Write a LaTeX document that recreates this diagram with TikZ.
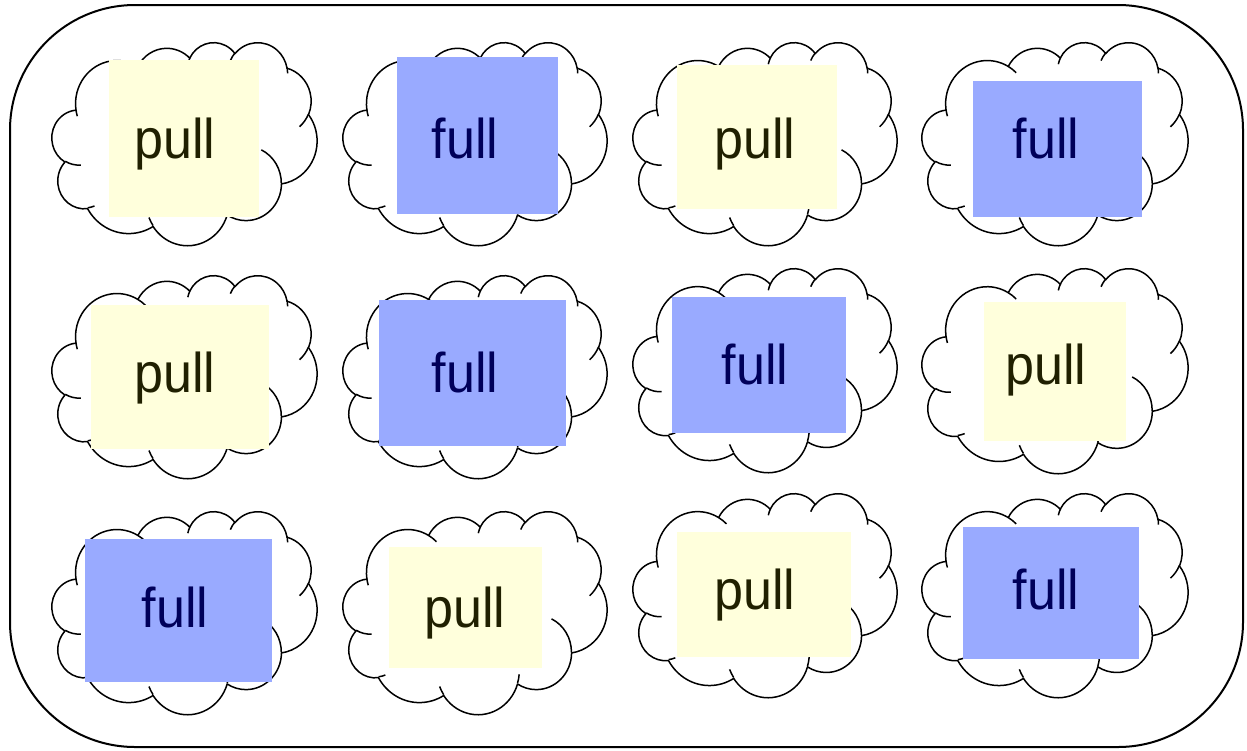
\documentclass[tikz,border=0pt]{standalone}
\usepackage{fontspec}
\newfontfamily\comic[FakeStretch=0.93]{Liberation Sans}
\usetikzlibrary{fit}
\definecolor{cream}{RGB}{255,255,220}
\definecolor{bluish}{RGB}{153,170,255}
\definecolor{olivetext}{RGB}{32,32,0}
\definecolor{navytext}{RGB}{0,0,90}
% OOXML-style arc: x radius, y radius, visual start angle, visual sweep
\newcommand\oa[4]{arc[x radius=#1, y radius=#2, start angle={atan2(#1*sin(#3),#2*cos(#3))}, delta angle={Mod(atan2(#1*sin((#3)+(#4)),#2*cos((#3)+(#4)))-atan2(#1*sin(#3),#2*cos(#3)),360)}]}
\newcommand\cloudshape[4]{%
  \pgfmathsetmacro\cwx{#3/43.2}%
  \pgfmathsetmacro\chy{-#4/43.2}%
  \begin{scope}[shift={(#1,#2)}, x=\cwx pt, y=\chy pt]
    \filldraw[cloudline, fill=white] (3.900,14.370)
      \oa{6.753}{9.190}{-190.48748}{123.78053}
      \oa{5.333}{7.267}{-144.10238}{89.94523}
      \oa{4.365}{5.945}{-145.80792}{99.72302}
      \oa{4.857}{6.595}{-130.98607}{117.24173}
      \oa{5.333}{7.273}{-78.70888}{109.02692}
      \oa{6.775}{9.220}{-46.26725}{130.26900}
      \oa{5.785}{7.867}{0.62502}{114.03333}
      \oa{6.752}{9.215}{22.45160}{115.17255}
      \oa{7.720}{10.543}{66.24263}{75.71102}
      \oa{4.360}{5.918}{-274.94208}{146.73557}
      \oa{4.345}{5.945}{-246.82850}{152.51885}
      -- cycle;
    \draw[cloudline]
      (4.693,26.177) \oa{4.345}{5.945}{86.742}{26.4295}
      (6.928,34.899) \oa{4.360}{5.918}{73.6105}{11.4475}
      (16.478,39.090) \oa{6.752}{9.215}{137.6242}{14.0811}
      (28.827,34.751) \oa{6.752}{9.215}{6.4533}{15.9984}
      (34.129,22.954) \oa{5.785}{7.867}{-70.2924}{70.9174}
      (41.798,15.354) \oa{5.333}{7.273}{30.3180}{27.7515}
      (38.324,5.426) \oa{4.857}{6.595}{-13.7443}{14.8534}
      (29.078,3.952) \oa{4.857}{6.595}{-149.1815}{18.1959}
      (22.141,4.720) \oa{4.365}{5.945}{-163.4943}{17.691}
      (14.000,5.192) \oa{6.753}{9.190}{-66.7070}{12.3194}
      (4.127,15.789) \oa{6.753}{9.190}{157.6544}{11.8582};
  \end{scope}}
\begin{document}
\begin{tikzpicture}[x=1pt,y=-1pt,
  cloudline/.style={draw=black, line width=1.5pt, line join=round},
  framebox/.style={draw=black, line width=2pt, rounded corners=125pt},
  ybox/.style={fill=cream, inner sep=0pt, draw=none},
  bbox/.style={fill=bluish, inner sep=0pt, draw=none},
  word/.style={anchor=base, inner sep=0pt, font=\comic\fontsize{56}{60}\selectfont},
  ytxt/.style={word, text=olivetext},
  btxt/.style={word, text=navytext}]
\useasboundingbox (0,0) rectangle (1247,750);
\draw[framebox] (10,5) rectangle (1243,747);
% clouds
\cloudshape{52}{42}{265}{203}
\cloudshape{343}{42}{264}{203}
\cloudshape{633}{42}{264}{203}
\cloudshape{922}{42}{266}{203}
\cloudshape{52}{275}{265}{203}
\cloudshape{343}{275}{264}{203}
\cloudshape{633}{268}{264}{204}
\cloudshape{922}{268}{266}{205}
\cloudshape{52}{511}{265}{203}
\cloudshape{343}{511}{264}{203}
\cloudshape{633}{493}{264}{204}
\cloudshape{922}{493}{266}{204}
% coloured boxes
\node[ybox, fit={(109,60) (259,217)}] (r11) {};
\node[bbox, fit={(397,57) (558,214)}] (r12) {};
\node[ybox, fit={(677,65) (837,209)}] (r13) {};
\node[bbox, fit={(973,81) (1142,217)}] (r14) {};
\node[ybox, fit={(91,305) (269,449)}] (r21) {};
\node[bbox, fit={(379,300) (566,446)}] (r22) {};
\node[bbox, fit={(672,297) (846,433)}] (r23) {};
\node[ybox, fit={(984,302) (1126,441)}] (r24) {};
\node[bbox, fit={(85,539) (272,682)}] (r31) {};
\node[ybox, fit={(389,547) (542,668)}] (r32) {};
\node[ybox, fit={(677,532) (851,657)}] (r33) {};
\node[bbox, fit={(963,527) (1139,659)}] (r34) {};
% words
\node[ytxt] (t11) at (175,158) {pull};
\node[btxt] (t12) at (465,158) {full};
\node[ytxt] (t13) at (755,158) {pull};
\node[btxt] (t14) at (1046,158) {full};
\node[ytxt] (t21) at (175,392) {pull};
\node[btxt] (t22) at (465,392) {full};
\node[btxt] (t23) at (755,384) {full};
\node[ytxt] (t24) at (1046,384) {pull};
\node[btxt] (t31) at (175,627) {full};
\node[ytxt] (t32) at (465,627) {pull};
\node[ytxt] (t33) at (755,609) {pull};
\node[btxt] (t34) at (1046,609) {full};
\end{tikzpicture}
\end{document}
